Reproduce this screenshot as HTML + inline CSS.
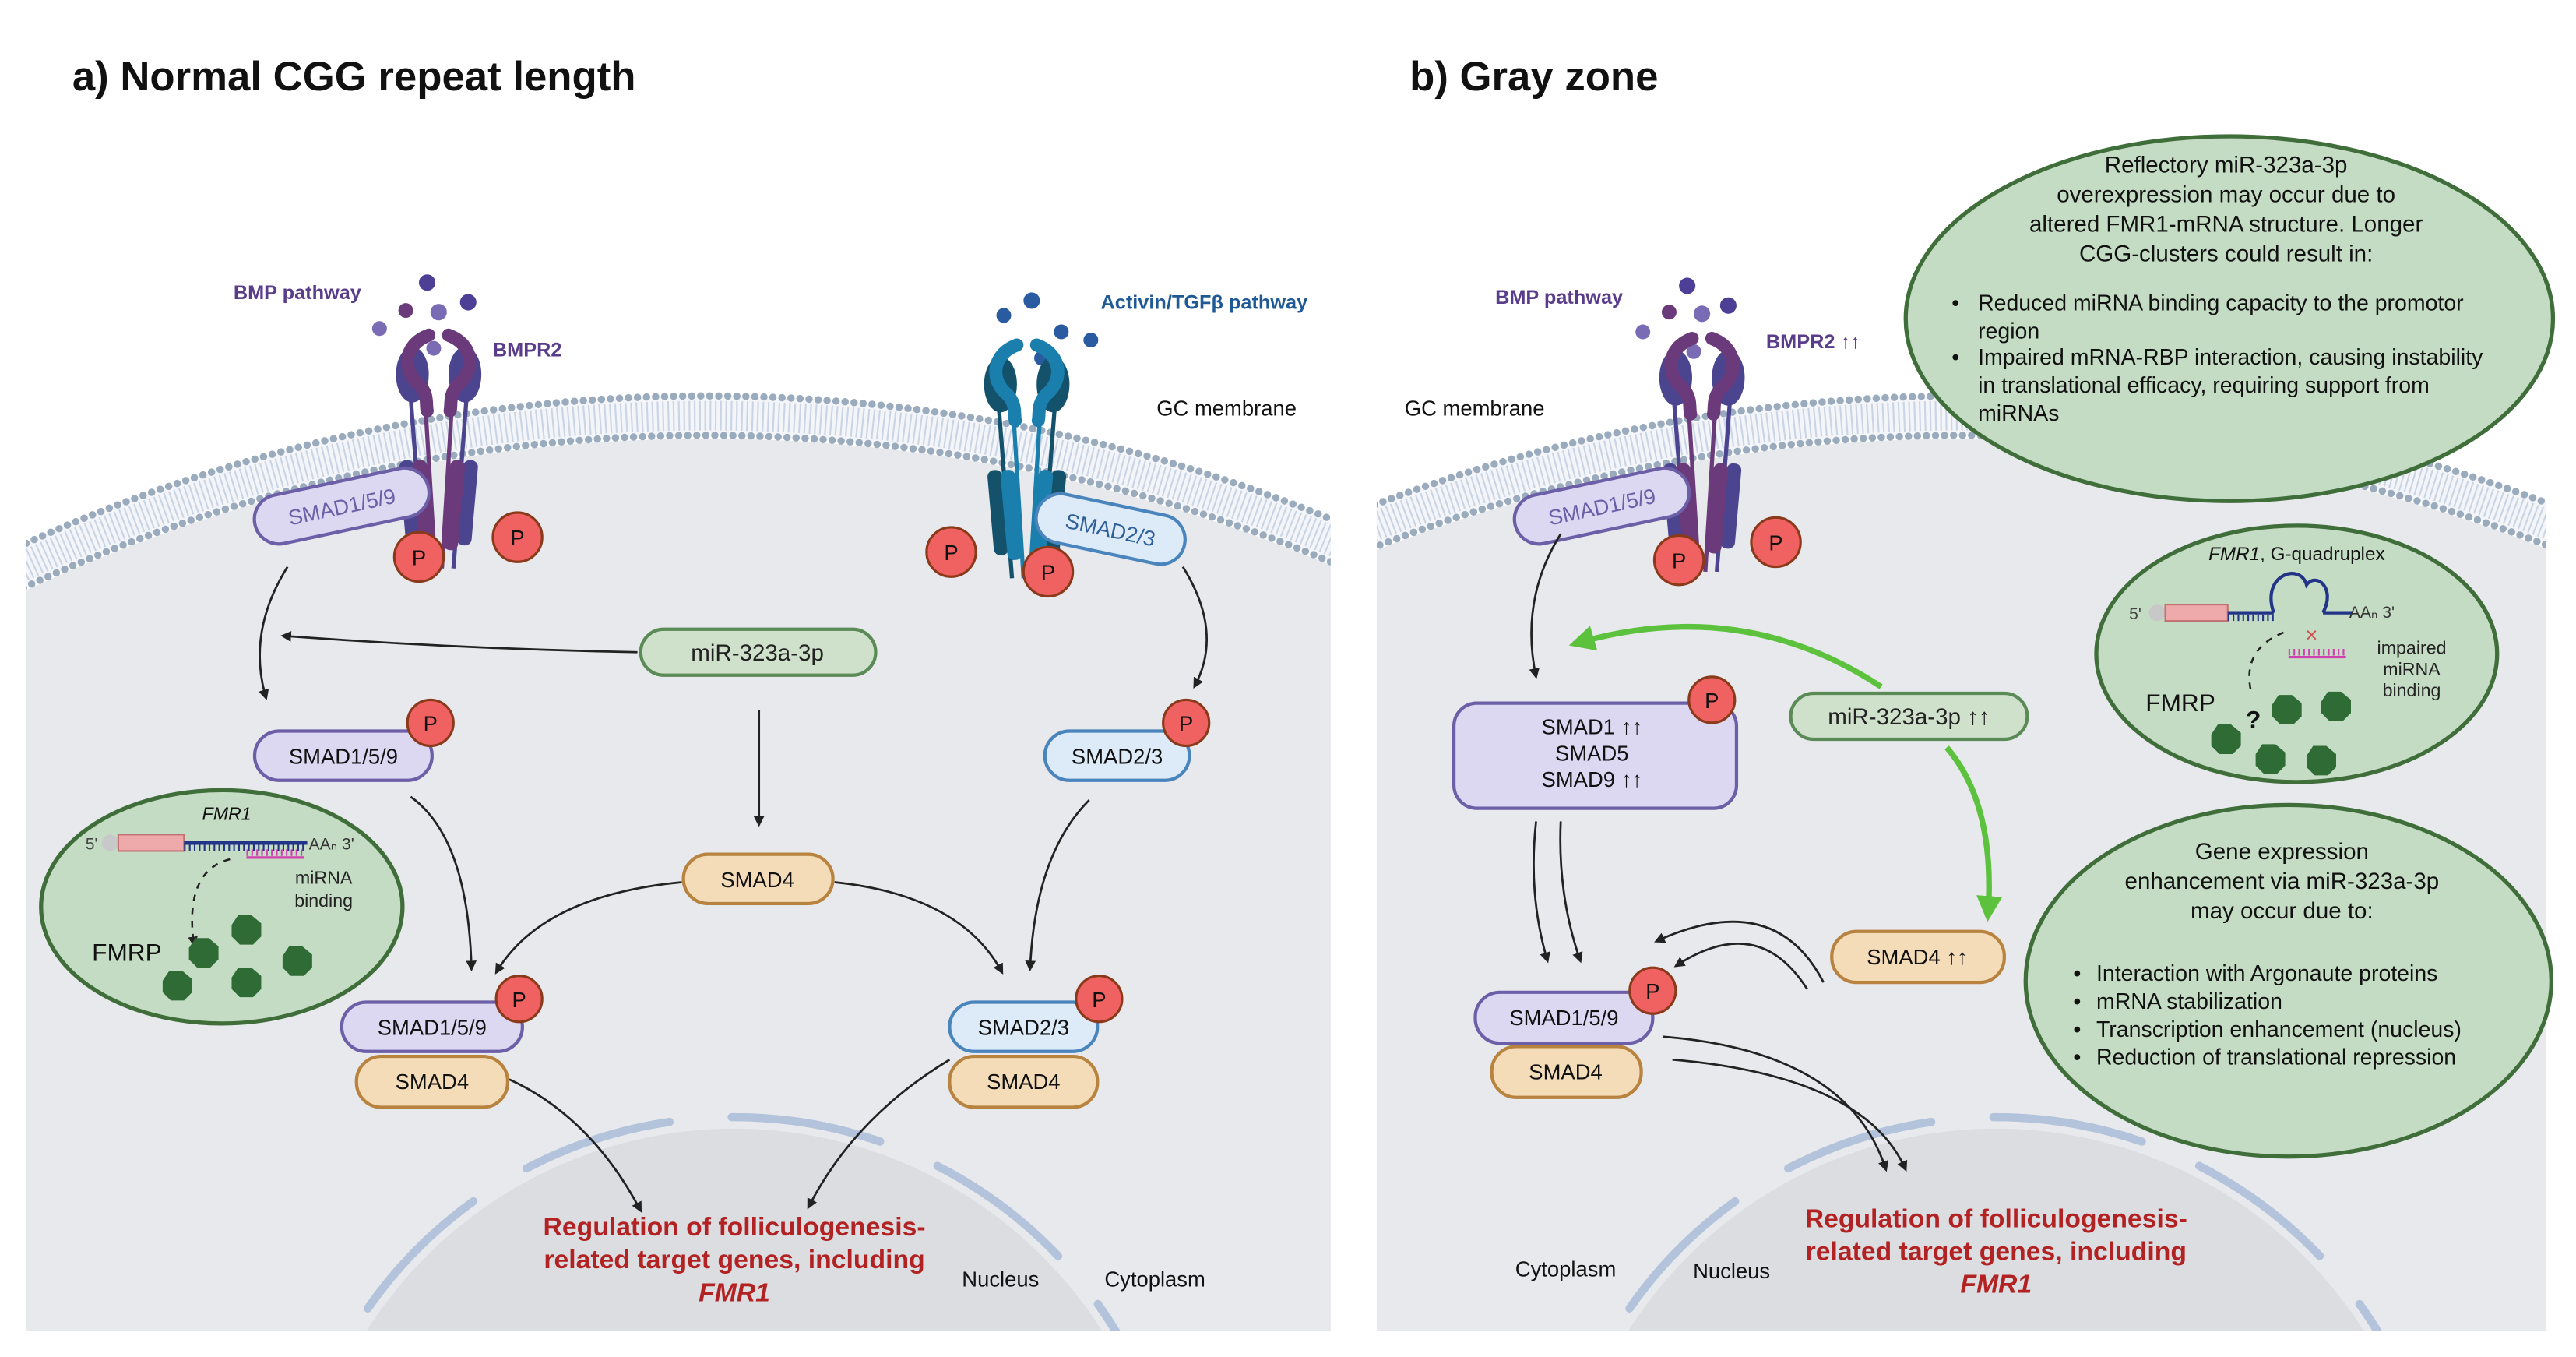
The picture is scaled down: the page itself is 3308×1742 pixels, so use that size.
<!DOCTYPE html>
<html><head><meta charset="utf-8">
<style>
html,body{margin:0;padding:0;background:#fff;overflow:hidden;width:3308px;height:1742px;}
svg{display:block;}
text{font-family:"Liberation Sans",sans-serif;}
</style></head><body>
<svg width="3308" height="1742" viewBox="0 0 1568 826" preserveAspectRatio="none" xmlns="http://www.w3.org/2000/svg">
<defs>
<marker id="ah" viewBox="0 0 10 10" refX="8" refY="5" markerWidth="5" markerHeight="5" orient="auto"><path d="M0 0L10 5L0 10z" fill="#222"/></marker>
<marker id="ag" viewBox="0 0 10 10" refX="8" refY="5" markerWidth="4.5" markerHeight="4.5" orient="auto"><path d="M0 0L10 5L0 10z" fill="#5cc23e"/></marker>
<clipPath id="ca"><rect x="16" y="0" width="794" height="810"/></clipPath>
<clipPath id="cb"><rect x="838" y="0" width="712" height="810"/></clipPath>
<g id="half">
  <ellipse cx="-16" cy="32" rx="10" ry="17" fill="var(--d)"/>
  <path d="M-6 8 C-22 14 -22 30 -12 38 C-6 44 -8 50 -7 54" fill="none" stroke="var(--p)" stroke-width="8" stroke-linecap="round"/>
  <line x1="-17" y1="46" x2="-9" y2="150" stroke="var(--d)" stroke-width="2.5"/>
  <line x1="-8" y1="52" x2="-2" y2="150" stroke="var(--p)" stroke-width="2.5"/>
  <rect x="-22" y="84" width="9" height="52" rx="4" fill="var(--d)" transform="rotate(-5 -17 110)"/>
  <rect x="-14" y="84" width="9" height="55" rx="4" fill="var(--p)" transform="rotate(-5 -10 110)"/>
</g>
<g id="rec"><use href="#half"/><use href="#half" transform="scale(-1,1)"/></g>
<g id="blob"><path d="M-9 -3 L-5 -9 L3 -9 L9 -4 L9 4 L4 9 L-4 9 L-9 4z" fill="#2f6b34"/></g>
</defs>

<!-- PANEL A -->
<g clip-path="url(#ca)">
  <circle cx="430" cy="1242" r="975" fill="#e8e9ec"/>
  <circle cx="447" cy="952" r="265" fill="#dcdde1"/>
  <circle cx="447" cy="952" r="272" fill="none" stroke="#b3c3db" stroke-width="5" stroke-dasharray="92 38" stroke-dashoffset="20" stroke-linecap="round"/>
  <circle cx="430" cy="1242" r="989" fill="none" stroke="#f3f5f9" stroke-width="24"/>
  <circle cx="430" cy="1242" r="989" fill="none" stroke="#c9d4e4" stroke-width="18" stroke-dasharray="1 2.2"/>
  <circle cx="430" cy="1242" r="1001" fill="none" stroke="#9aabbd" stroke-width="4.5" stroke-dasharray="0 5.5" stroke-linecap="round"/>
  <circle cx="430" cy="1242" r="977" fill="none" stroke="#9aabbd" stroke-width="4.5" stroke-dasharray="0 5.5" stroke-linecap="round"/>
</g>
<text x="44" y="55" font-size="25" font-weight="bold" fill="#111">a) Normal CGG repeat length</text>
<text x="181" y="182" font-size="12" font-weight="bold" fill="#5a3d8a" text-anchor="middle">BMP pathway</text>
<text x="300" y="217" font-size="12" font-weight="bold" fill="#5a3d8a">BMPR2</text>
<text x="670" y="188" font-size="12" font-weight="bold" fill="#1f5a96">Activin/TGFβ pathway</text>
<text x="704" y="253" font-size="13" fill="#111">GC membrane</text>
<g fill="#4d3f96"><circle cx="260" cy="172" r="5"/><circle cx="285" cy="184" r="5"/></g>
<g fill="#6b3a7a"><circle cx="247" cy="189" r="4.5"/></g>
<g fill="#7a6cb4"><circle cx="267" cy="190" r="5"/><circle cx="231" cy="200" r="4.5"/><circle cx="264" cy="212" r="4.5"/></g>
<g style="--p:#6b3a7a;--d:#4b4590"><use href="#rec" transform="translate(267,196)"/></g>
<g fill="#2a5aa0"><circle cx="628" cy="183" r="5"/><circle cx="611" cy="192" r="4.5"/><circle cx="646" cy="202" r="4.5"/><circle cx="664" cy="207" r="4.5"/><circle cx="634" cy="218" r="4.5"/></g>
<g style="--p:#1b7fae;--d:#14526c"><use href="#rec" transform="translate(625,202)"/></g>

<g transform="rotate(-12 208 308)"><rect x="154" y="293" width="108" height="30" rx="15" fill="#dcd8f2" stroke="#6c5fa7" stroke-width="2"/><text x="208" y="313" font-size="13" fill="#6c5fa7" text-anchor="middle">SMAD1/5/9</text></g>
<g transform="rotate(12 676 322)"><rect x="630" y="307" width="92" height="30" rx="15" fill="#ddeaf7" stroke="#4a84bd" stroke-width="2"/><text x="676" y="327" font-size="13" fill="#2f5f99" text-anchor="middle">SMAD2/3</text></g>
<rect x="390" y="383" width="143" height="28" rx="14" fill="#cfe1cb" stroke="#5a8a55" stroke-width="2"/><text x="461" y="402" font-size="14" fill="#222" text-anchor="middle">miR-323a-3p</text>
<rect x="155" y="445" width="108" height="30" rx="15" fill="#dcd8f2" stroke="#6c5fa7" stroke-width="2"/><text x="209" y="465" font-size="13" fill="#111" text-anchor="middle">SMAD1/5/9</text>
<rect x="636" y="445" width="88" height="30" rx="15" fill="#ddeaf7" stroke="#4a84bd" stroke-width="2"/><text x="680" y="465" font-size="13" fill="#111" text-anchor="middle">SMAD2/3</text>
<rect x="416" y="520" width="91" height="30" rx="15" fill="#f5dcb8" stroke="#b8823f" stroke-width="2"/><text x="461" y="540" font-size="13" fill="#111" text-anchor="middle">SMAD4</text>
<rect x="208" y="610" width="110" height="30" rx="15" fill="#dcd8f2" stroke="#6c5fa7" stroke-width="2"/><text x="263" y="630" font-size="13" fill="#111" text-anchor="middle">SMAD1/5/9</text>
<rect x="217" y="643" width="92" height="31" rx="15" fill="#f5dcb8" stroke="#b8823f" stroke-width="2"/><text x="263" y="663" font-size="13" fill="#111" text-anchor="middle">SMAD4</text>
<rect x="578" y="610" width="90" height="30" rx="15" fill="#ddeaf7" stroke="#4a84bd" stroke-width="2"/><text x="623" y="630" font-size="13" fill="#111" text-anchor="middle">SMAD2/3</text>
<rect x="578" y="643" width="90" height="31" rx="15" fill="#f5dcb8" stroke="#b8823f" stroke-width="2"/><text x="623" y="663" font-size="13" fill="#111" text-anchor="middle">SMAD4</text>
<g fill="#f06262" stroke="#8a3a1a" stroke-width="1.5">
<circle cx="255" cy="339" r="15"/><circle cx="315" cy="327" r="15"/><circle cx="579" cy="336" r="15"/><circle cx="638" cy="348" r="15"/>
<circle cx="262" cy="440" r="14"/><circle cx="722" cy="440" r="14"/><circle cx="316" cy="608" r="14"/><circle cx="669" cy="608" r="14"/>
</g>
<g font-size="13" fill="#111" text-anchor="middle">
<text x="255" y="344">P</text><text x="315" y="332">P</text><text x="579" y="341">P</text><text x="638" y="353">P</text>
<text x="262" y="445">P</text><text x="722" y="445">P</text><text x="316" y="613">P</text><text x="669" y="613">P</text>
</g>
<ellipse cx="135" cy="552" rx="110" ry="71" fill="#c5dcc4" stroke="#3f6e3a" stroke-width="2.5"/>
<text x="138" y="499" font-size="11" font-style="italic" fill="#111" text-anchor="middle">FMR1</text>
<text x="52" y="517" font-size="10" fill="#444">5'</text><circle cx="67" cy="513" r="5" fill="#c8c8c8"/>
<rect x="72" y="508" width="40" height="10" fill="#eeaaaa" stroke="#c07070"/>
<line x1="112" y1="513" x2="187" y2="513" stroke="#223388" stroke-width="2.5"/>
<line x1="112" y1="516" x2="187" y2="516" stroke="#223388" stroke-width="4" stroke-dasharray="1 2"/>
<text x="188" y="517" font-size="10" fill="#333">AAₙ 3'</text>
<line x1="150" y1="519" x2="185" y2="519" stroke="#d040b0" stroke-width="4" stroke-dasharray="1 2"/>
<line x1="150" y1="522" x2="185" y2="522" stroke="#d040b0" stroke-width="1.5"/>
<text x="197" y="538" font-size="11" fill="#222" text-anchor="middle">miRNA</text><text x="197" y="552" font-size="11" fill="#222" text-anchor="middle">binding</text>
<path d="M140 523 Q112 530 118 575" fill="none" stroke="#222" stroke-width="1.2" stroke-dasharray="4 4" marker-end="url(#ah)"/>
<text x="56" y="585" font-size="15" fill="#111">FMRP</text>
<use href="#blob" transform="translate(124,580)"/><use href="#blob" transform="translate(150,566)"/><use href="#blob" transform="translate(108,600)"/><use href="#blob" transform="translate(150,598)"/><use href="#blob" transform="translate(181,585)"/>
<g fill="none" stroke="#222" stroke-width="1.3" marker-end="url(#ah)">
<path d="M175 345 Q150 385 162 425"/>
<path d="M388 397 Q280 395 172 387"/>
<path d="M462 432 L462 502"/>
<path d="M720 345 Q745 385 727 418"/>
<path d="M250 485 Q285 510 287 590"/>
<path d="M415 537 Q330 545 302 592"/>
<path d="M508 537 Q585 545 610 592"/>
<path d="M663 487 Q630 520 627 590"/>
<path d="M310 657 Q360 680 390 737"/>
<path d="M578 645 Q520 680 492 735"/>
</g>
<g font-size="16" font-weight="bold" fill="#b22222" text-anchor="middle">
<text x="447" y="752">Regulation of folliculogenesis-</text>
<text x="447" y="772">related target genes, including</text>
<text x="447" y="792" font-style="italic">FMR1</text>
</g>
<text x="609" y="783" font-size="13" fill="#111" text-anchor="middle">Nucleus</text>
<text x="703" y="783" font-size="13" fill="#111" text-anchor="middle">Cytoplasm</text>

<!-- PANEL B -->
<g clip-path="url(#cb)">
  <circle cx="1195" cy="1242" r="975" fill="#e8e9ec"/>
  <circle cx="1215" cy="952" r="265" fill="#dcdde1"/>
  <circle cx="1215" cy="952" r="272" fill="none" stroke="#b3c3db" stroke-width="5" stroke-dasharray="92 38" stroke-dashoffset="20" stroke-linecap="round"/>
  <circle cx="1195" cy="1242" r="989" fill="none" stroke="#f3f5f9" stroke-width="24"/>
  <circle cx="1195" cy="1242" r="989" fill="none" stroke="#c9d4e4" stroke-width="18" stroke-dasharray="1 2.2"/>
  <circle cx="1195" cy="1242" r="1001" fill="none" stroke="#9aabbd" stroke-width="4.5" stroke-dasharray="0 5.5" stroke-linecap="round"/>
  <circle cx="1195" cy="1242" r="977" fill="none" stroke="#9aabbd" stroke-width="4.5" stroke-dasharray="0 5.5" stroke-linecap="round"/>
</g>
<text x="858" y="55" font-size="25" font-weight="bold" fill="#111">b) Gray zone</text>
<text x="949" y="185" font-size="12" font-weight="bold" fill="#5a3d8a" text-anchor="middle">BMP pathway</text>
<text x="1075" y="212" font-size="12" font-weight="bold" fill="#5a3d8a">BMPR2 ↑↑</text>
<text x="855" y="253" font-size="13" fill="#111">GC membrane</text>
<g fill="#4d3f96"><circle cx="1027" cy="174" r="5"/><circle cx="1052" cy="186" r="5"/></g>
<g fill="#6b3a7a"><circle cx="1016" cy="190" r="4.5"/></g>
<g fill="#7a6cb4"><circle cx="1036" cy="191" r="5"/><circle cx="1000" cy="202" r="4.5"/><circle cx="1031" cy="214" r="4.5"/></g>
<g style="--p:#6b3a7a;--d:#4b4590"><use href="#rec" transform="translate(1036,198)"/></g>
<g transform="rotate(-12 975 308)"><rect x="921" y="293" width="108" height="30" rx="15" fill="#dcd8f2" stroke="#6c5fa7" stroke-width="2"/><text x="975" y="313" font-size="13" fill="#6c5fa7" text-anchor="middle">SMAD1/5/9</text></g>

<ellipse cx="1357" cy="194" rx="197" ry="111" fill="#c5dcc4" stroke="#3f6e3a" stroke-width="2.5"/>
<g font-size="14" fill="#111" text-anchor="middle">
<text x="1355" y="105">Reflectory miR-323a-3p</text>
<text x="1355" y="123">overexpression may occur due to</text>
<text x="1355" y="141">altered FMR1-mRNA structure. Longer</text>
<text x="1355" y="159">CGG-clusters could result in:</text>
</g>
<g font-size="13.5" fill="#111">
<text x="1188" y="189">•</text><text x="1204" y="189">Reduced miRNA binding capacity to the promotor</text>
<text x="1204" y="206">region</text>
<text x="1188" y="222">•</text><text x="1204" y="222">Impaired mRNA-RBP interaction, causing instability</text>
<text x="1204" y="239">in translational efficacy, requiring support from</text>
<text x="1204" y="256">miRNAs</text>
</g>
<ellipse cx="1398" cy="398" rx="122" ry="78" fill="#c5dcc4" stroke="#3f6e3a" stroke-width="2.5"/>
<text x="1398" y="341" font-size="11.5" fill="#111" text-anchor="middle"><tspan font-style="italic">FMR1</tspan>, G-quadruplex</text>
<text x="1296" y="377" font-size="10" fill="#444">5'</text><circle cx="1313" cy="373" r="5" fill="#c8c8c8"/>
<rect x="1318" y="368" width="38" height="10" fill="#eeaaaa" stroke="#c07070"/>
<line x1="1356" y1="373" x2="1384" y2="373" stroke="#223388" stroke-width="2"/>
<line x1="1356" y1="376" x2="1384" y2="376" stroke="#223388" stroke-width="4" stroke-dasharray="1 2"/>
<path d="M1384 373 C1376 350 1400 342 1404 356 C1410 348 1422 358 1414 373" fill="none" stroke="#223388" stroke-width="2"/>
<line x1="1414" y1="373" x2="1432" y2="373" stroke="#223388" stroke-width="2"/>
<text x="1430" y="376" font-size="10" fill="#333">AAₙ 3'</text>
<text x="1407" y="391" font-size="13" fill="#d05050" text-anchor="middle">×</text>
<line x1="1393" y1="397" x2="1428" y2="397" stroke="#d040b0" stroke-width="4" stroke-dasharray="1 2"/>
<line x1="1393" y1="400" x2="1428" y2="400" stroke="#d040b0" stroke-width="1.5"/>
<g font-size="11" fill="#222" text-anchor="middle"><text x="1468" y="398">impaired</text><text x="1468" y="411">miRNA</text><text x="1468" y="424">binding</text></g>
<path d="M1390 385 Q1365 395 1370 420" fill="none" stroke="#222" stroke-width="1.2" stroke-dasharray="4 4"/>
<text x="1306" y="433" font-size="15" fill="#111">FMRP</text>
<text x="1367" y="443" font-size="15" font-weight="bold" fill="#111">?</text>
<use href="#blob" transform="translate(1355,450)"/><use href="#blob" transform="translate(1382,462)"/><use href="#blob" transform="translate(1413,463)"/><use href="#blob" transform="translate(1392,432)"/><use href="#blob" transform="translate(1422,430)"/>
<ellipse cx="1393" cy="597" rx="160" ry="107" fill="#c5dcc4" stroke="#3f6e3a" stroke-width="2.5"/>
<g font-size="14" fill="#111" text-anchor="middle">
<text x="1389" y="523">Gene expression</text>
<text x="1389" y="541">enhancement via miR-323a-3p</text>
<text x="1389" y="559">may occur due to:</text>
</g>
<g font-size="13.5" fill="#111">
<text x="1262" y="597">•</text><text x="1276" y="597">Interaction with Argonaute proteins</text>
<text x="1262" y="614">•</text><text x="1276" y="614">mRNA stabilization</text>
<text x="1262" y="631">•</text><text x="1276" y="631">Transcription enhancement (nucleus)</text>
<text x="1262" y="648">•</text><text x="1276" y="648">Reduction of translational repression</text>
</g>
<rect x="885" y="428" width="172" height="64" rx="14" fill="#dcd8f2" stroke="#6c5fa7" stroke-width="2"/>
<g font-size="13" fill="#111" text-anchor="middle"><text x="969" y="447">SMAD1 ↑↑</text><text x="969" y="463">SMAD5</text><text x="969" y="479">SMAD9 ↑↑</text></g>
<rect x="1090" y="422" width="144" height="28" rx="14" fill="#cfe1cb" stroke="#5a8a55" stroke-width="2"/><text x="1162" y="441" font-size="14" fill="#222" text-anchor="middle">miR-323a-3p ↑↑</text>
<rect x="1115" y="567" width="105" height="31" rx="15" fill="#f5dcb8" stroke="#b8823f" stroke-width="2"/><text x="1167" y="587" font-size="13" fill="#111" text-anchor="middle">SMAD4 ↑↑</text>
<rect x="898" y="604" width="108" height="31" rx="15" fill="#dcd8f2" stroke="#6c5fa7" stroke-width="2"/><text x="952" y="624" font-size="13" fill="#111" text-anchor="middle">SMAD1/5/9</text>
<rect x="908" y="637" width="91" height="31" rx="15" fill="#f5dcb8" stroke="#b8823f" stroke-width="2"/><text x="953" y="657" font-size="13" fill="#111" text-anchor="middle">SMAD4</text>
<g fill="#f06262" stroke="#8a3a1a" stroke-width="1.5">
<circle cx="1022" cy="341" r="15"/><circle cx="1081" cy="330" r="15"/><circle cx="1042" cy="426" r="14"/><circle cx="1006" cy="603" r="14"/>
</g>
<g font-size="13" fill="#111" text-anchor="middle">
<text x="1022" y="346">P</text><text x="1081" y="335">P</text><text x="1042" y="431">P</text><text x="1006" y="608">P</text>
</g>
<g fill="none" stroke="#5cc23e" stroke-width="3.5" marker-end="url(#ag)">
<path d="M1145 418 Q1060 362 958 392"/>
<path d="M1185 455 Q1215 490 1210 558"/>
</g>
<g fill="none" stroke="#222" stroke-width="1.3" marker-end="url(#ah)">
<path d="M950 325 Q925 365 935 412"/>
<path d="M935 500 Q930 545 942 585"/>
<path d="M950 500 Q948 545 962 585"/>
<path d="M1110 598 Q1080 540 1008 573"/>
<path d="M1100 602 Q1070 555 1020 588"/>
<path d="M1012 631 Q1125 640 1148 712"/>
<path d="M1018 645 Q1135 655 1160 712"/>
</g>
<g font-size="16" font-weight="bold" fill="#b22222" text-anchor="middle">
<text x="1215" y="747">Regulation of folliculogenesis-</text>
<text x="1215" y="767">related target genes, including</text>
<text x="1215" y="787" font-style="italic">FMR1</text>
</g>
<text x="953" y="777" font-size="13" fill="#111" text-anchor="middle">Cytoplasm</text>
<text x="1054" y="778" font-size="13" fill="#111" text-anchor="middle">Nucleus</text>
</svg>
</body></html>
